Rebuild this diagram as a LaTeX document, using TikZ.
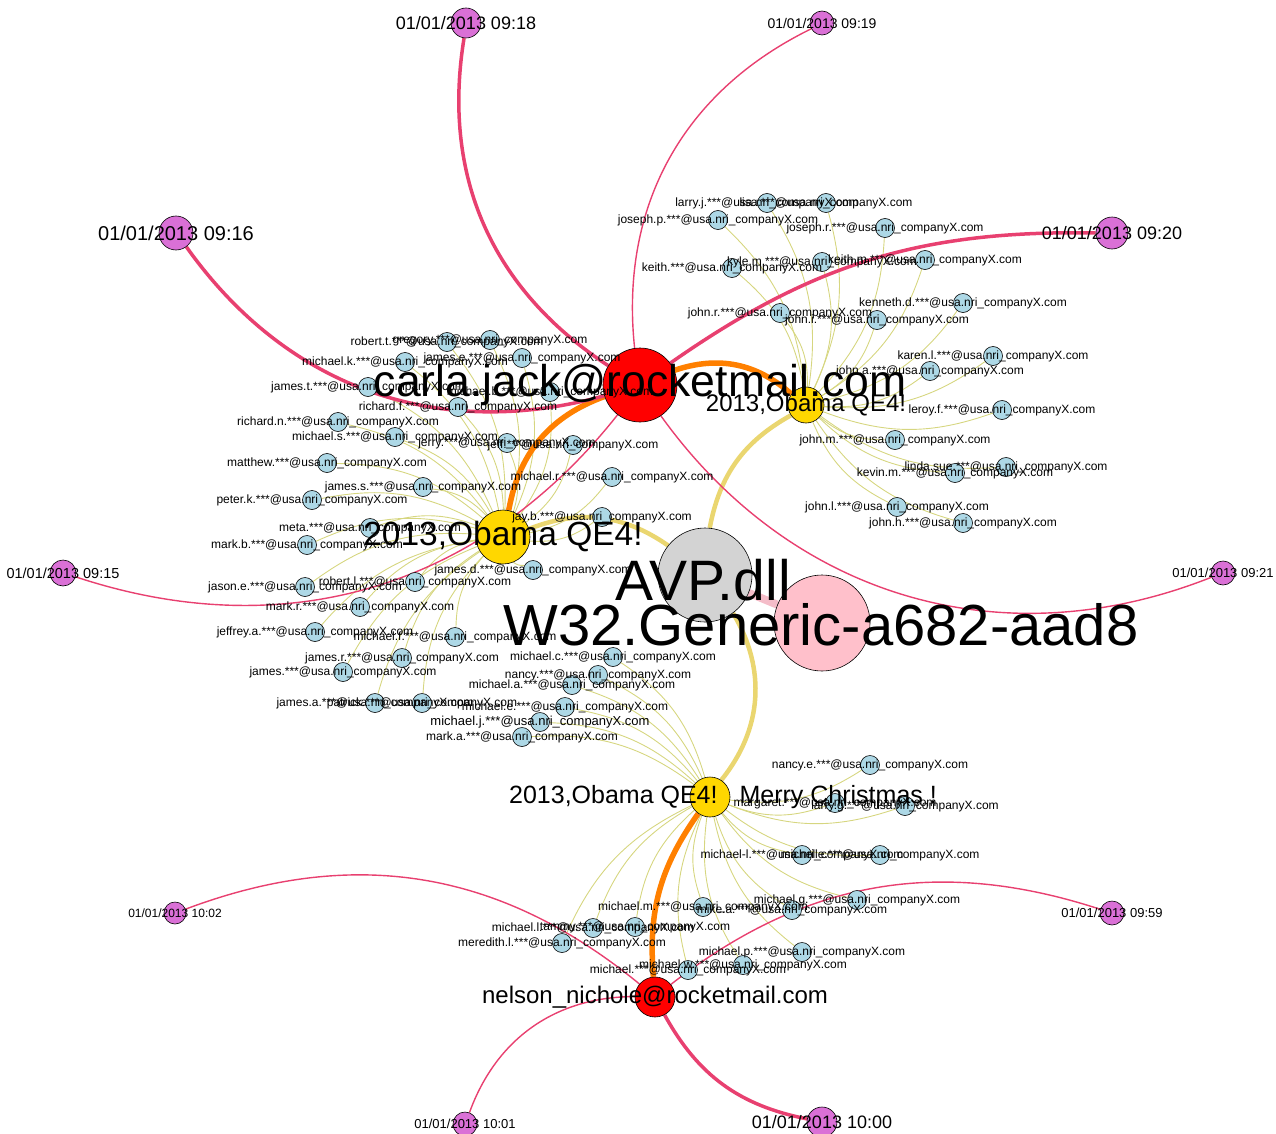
\documentclass[tikz,border=0pt]{standalone}
\usepackage{fontspec}
\setmainfont{Liberation Sans}
\pgfdeclarelayer{bg}
\pgfsetlayers{bg,main}
\definecolor{linkred}{RGB}{232,64,112}
\definecolor{hoporange}{RGB}{255,128,0}
\definecolor{dropkhaki}{RGB}{234,214,112}
\definecolor{mailkhaki}{RGB}{214,214,128}
\definecolor{softpink}{RGB}{244,188,200}
\definecolor{nodeblue}{RGB}{173,216,230}
\definecolor{topicgold}{RGB}{255,215,0}
\definecolor{stamppurple}{RGB}{218,112,214}
\definecolor{avpgray}{RGB}{211,211,211}
\definecolor{w32pink}{RGB}{255,192,203}
\newcommand{\txtsize}[1]{\fontsize{#1}{#1}\selectfont}
\newcommand{\dom}{***@usa.nri\_companyX.com}

\begin{document}
\begin{tikzpicture}[
    x=1pt, y=-1pt,
    person/.style={draw,circle,fill=nodeblue,inner sep=0,minimum size=19pt,line width=0.6pt},
    topic/.style={draw,circle,fill=topicgold,inner sep=0,minimum size=#1,line width=0.6pt},
    sender/.style={draw,circle,fill=red,inner sep=0,minimum size=#1,line width=0.6pt},
    stamp/.style={draw,circle,fill=stamppurple,inner sep=0,minimum size=#1,line width=0.6pt},
    lbl/.style={inner sep=0,font=\txtsize{12}},
    linkthick/.style={draw=linkred,line width=3.5pt},
    linkthin/.style={draw=linkred,line width=1.4pt},
    hop/.style={draw=hoporange,line width=5.5pt},
    dropline/.style={draw=dropkhaki,line width=4.5pt},
    mail/.style={draw=mailkhaki,line width=0.9pt,bend right=20}]
  \useasboundingbox (0,0) rectangle (1276,1134);
  % main nodes
  \node[sender=74pt] (carla) at (640,385) {};
  \node[sender=40pt] (nelson) at (655,997) {};
  \node[draw,circle,fill=avpgray,minimum size=94pt,line width=0.6pt] (avp) at (705,575) {};
  \node[draw,circle,fill=w32pink,minimum size=96pt,line width=0.6pt] (w32) at (822,623) {};
  \node[topic=36pt] (ya) at (806,405) {};
  \node[topic=54pt] (yb) at (503,537) {};
  \node[topic=40pt] (yc) at (710,797) {};
  % time stamps
  \node[stamp=26pt] (ts0915) at (63,573) {};
  \node[stamp=34pt] (ts0916) at (176,233) {};
  \node[stamp=30pt] (ts0918) at (466,23) {};
  \node[stamp=24pt] (ts0919) at (822,23) {};
  \node[stamp=32pt] (ts0920) at (1112,233) {};
  \node[stamp=24pt] (ts0921) at (1223,573) {};
  \node[stamp=22pt] (ts1002) at (175,913) {};
  \node[stamp=24pt] (ts0959) at (1112,913) {};
  \node[stamp=24pt] (ts1001) at (465,1124) {};
  \node[stamp=30pt] (ts1000) at (822,1122) {};
  % receivers, first message
  \node[person] (a1) at (767,203) {};
  \node[person] (a2) at (826,203) {};
  \node[person] (a3) at (718,220) {};
  \node[person] (a4) at (885,228) {};
  \node[person] (a5) at (732,268) {};
  \node[person] (a6) at (822,262) {};
  \node[person] (a7) at (925,260) {};
  \node[person] (a8) at (963,303) {};
  \node[person] (a9) at (780,313) {};
  \node[person] (a10) at (877,320) {};
  \node[person] (a11) at (993,356) {};
  \node[person] (a12) at (930,371) {};
  \node[person] (a13) at (1002,410) {};
  \node[person] (a14) at (895,440) {};
  \node[person] (a15) at (955,473) {};
  \node[person] (a16) at (1006,467) {};
  \node[person] (a17) at (897,507) {};
  \node[person] (a18) at (963,523) {};
  % receivers, second message
  \node[person] (b1) at (447,342) {};
  \node[person] (b2) at (490,340) {};
  \node[person] (b3) at (405,362) {};
  \node[person] (b4) at (522,358) {};
  \node[person] (b5) at (368,387) {};
  \node[person] (b6) at (458,407) {};
  \node[person] (b7) at (550,392) {};
  \node[person] (b8) at (338,422) {};
  \node[person] (b9) at (395,437) {};
  \node[person] (b10) at (507,443) {};
  \node[person] (b11) at (573,445) {};
  \node[person] (b12) at (327,463) {};
  \node[person] (b13) at (612,477) {};
  \node[person] (b14) at (423,487) {};
  \node[person] (b15) at (312,500) {};
  \node[person] (b16) at (602,517) {};
  \node[person] (b17) at (370,528) {};
  \node[person] (b18) at (307,545) {};
  \node[person] (b19) at (533,570) {};
  \node[person] (b20) at (415,582) {};
  \node[person] (b21) at (305,587) {};
  \node[person] (b22) at (360,607) {};
  \node[person] (b23) at (315,632) {};
  \node[person] (b24) at (455,637) {};
  \node[person] (b25) at (402,658) {};
  \node[person] (b26) at (343,672) {};
  \node[person] (b27) at (375,703) {};
  \node[person] (b28) at (422,703) {};
  % receivers, third message
  \node[person] (c1) at (613,657) {};
  \node[person] (c2) at (598,675) {};
  \node[person] (c3) at (572,685) {};
  \node[person] (c4) at (565,707) {};
  \node[person] (c5) at (540,722) {};
  \node[person] (c6) at (522,737) {};
  \node[person] (c7) at (870,765) {};
  \node[person] (c8) at (835,803) {};
  \node[person] (c9) at (905,806) {};
  \node[person] (c10) at (802,855) {};
  \node[person] (c11) at (880,855) {};
  \node[person] (c12) at (857,900) {};
  \node[person] (c13) at (703,907) {};
  \node[person] (c14) at (792,910) {};
  \node[person] (c15) at (593,928) {};
  \node[person] (c16) at (635,927) {};
  \node[person] (c17) at (562,943) {};
  \node[person] (c18) at (802,952) {};
  \node[person] (c19) at (688,970) {};
  \node[person] (c20) at (743,965) {};

  \begin{pgfonlayer}{bg}
    \path[mail] (ya) edge (a1) edge (a2) edge (a3) edge (a4) edge (a5) edge (a6)
      edge (a7) edge (a8) edge (a9) edge (a10) edge (a11) edge (a12) edge (a13)
      edge (a14) edge (a15) edge (a16) edge (a17) edge (a18);
    \path[mail] (yb) edge (b1) edge (b2) edge (b3) edge (b4) edge (b5) edge (b6)
      edge (b7) edge (b8) edge (b9) edge (b10) edge (b11) edge (b12) edge (b13)
      edge (b14) edge (b15) edge (b16) edge (b17) edge (b18) edge (b19) edge (b20)
      edge (b21) edge (b22) edge (b23) edge (b24) edge (b25) edge (b26) edge (b27)
      edge (b28);
    \path[mail] (yc) edge (c1) edge (c2) edge (c3) edge (c4) edge (c5) edge (c6)
      edge (c7) edge (c8) edge (c9) edge (c10) edge (c11) edge (c12) edge (c13)
      edge (c14) edge (c15) edge (c16) edge (c17) edge (c18) edge (c19) edge (c20);
    \path[draw=softpink,line width=8pt] (avp) -- (w32);
    \path[dropline] (avp) edge[bend left=25] (ya) (avp) edge[bend right=28] (yb)
      (avp) edge[bend left=35] (yc);
    \path[hop] (carla) edge[bend left=30] (ya) (carla) edge[bend right=30] (yb)
      (nelson) edge[bend left=20] (yc);
    \path[linkthick] (carla) edge[bend left=33] (ts0918) (carla) edge[bend left=35] (ts0916)
      (carla) edge[bend left=18] (ts0920) (nelson) edge[bend right=25] (ts1000);
    \path[linkthin] (carla) edge[bend left=35] (ts0919) (carla) edge[bend left=35] (ts0915)
      (carla) edge[bend right=38] (ts0921) (nelson) edge[bend right=30] (ts1002)
      (nelson) edge[bend left=28] (ts0959) (nelson) edge[bend right=35] (ts1001);
  \end{pgfonlayer}

  % labels
  \node[lbl] at (a1) {larry.j.\dom};
  \node[lbl] at (a2) {lisa.\dom};
  \node[lbl] at (a3) {joseph.p.\dom};
  \node[lbl] at (a4) {joseph.r.\dom};
  \node[lbl] at (a5) {keith.\dom};
  \node[lbl] at (a6) {kyle.m.\dom};
  \node[lbl] at (a7) {keith.m.\dom};
  \node[lbl] at (a8) {kenneth.d.\dom};
  \node[lbl] at (a9) {john.r.\dom};
  \node[lbl] at (a10) {john.i.\dom};
  \node[lbl] at (a11) {karen.l.\dom};
  \node[lbl] at (a12) {john.a.\dom};
  \node[lbl] at (a13) {leroy.f.\dom};
  \node[lbl] at (a14) {john.m.\dom};
  \node[lbl] at (a15) {kevin.m.\dom};
  \node[lbl] at (a16) {linda.sue.\dom};
  \node[lbl] at (a17) {john.l.\dom};
  \node[lbl] at (a18) {john.h.\dom};
  \node[lbl] at (b1) {robert.t.\dom};
  \node[lbl] at (b2) {gregory.\dom};
  \node[lbl] at (b3) {michael.k.\dom};
  \node[lbl] at (b4) {james.e.\dom};
  \node[lbl] at (b5) {james.t.\dom};
  \node[lbl] at (b6) {richard.f.\dom};
  \node[lbl] at (b7) {michael.b.\dom};
  \node[lbl] at (b8) {richard.n.\dom};
  \node[lbl] at (b9) {michael.s.\dom};
  \node[lbl] at (b10) {jerry.\dom};
  \node[lbl] at (b11) {jeff.\dom};
  \node[lbl] at (b12) {matthew.\dom};
  \node[lbl] at (b13) {michael.r.\dom};
  \node[lbl] at (b14) {james.s.\dom};
  \node[lbl] at (b15) {peter.k.\dom};
  \node[lbl] at (b16) {jay.b.\dom};
  \node[lbl] at (b17) {meta.\dom};
  \node[lbl] at (b18) {mark.b.\dom};
  \node[lbl] at (b19) {james.d.\dom};
  \node[lbl] at (b20) {robert.l.\dom};
  \node[lbl] at (b21) {jason.e.\dom};
  \node[lbl] at (b22) {mark.r.\dom};
  \node[lbl] at (b23) {jeffrey.a.\dom};
  \node[lbl] at (b24) {michael.f.\dom};
  \node[lbl] at (b25) {james.r.\dom};
  \node[lbl] at (b26) {james.\dom};
  \node[lbl] at (b27) {james.a.\dom};
  \node[lbl] at (b28) {patrick.\dom};
  \node[lbl] at (c1) {michael.c.\dom};
  \node[lbl] at (c2) {nancy.\dom};
  \node[lbl] at (c3) {michael.a.\dom};
  \node[lbl] at (c4) {michael.e.\dom};
  \node[lbl,font=\txtsize{13}] at (c5) {michael.j.\dom};
  \node[lbl] at (c6) {mark.a.\dom};
  \node[lbl] at (c7) {nancy.e.\dom};
  \node[lbl] at (c8) {margaret.\dom};
  \node[lbl] at (c9) {larry.g.\dom};
  \node[lbl] at (c10) {michael-l.\dom};
  \node[lbl] at (c11) {michelle.\dom};
  \node[lbl] at (c12) {michael.g.\dom};
  \node[lbl] at (c13) {michael.m.\dom};
  \node[lbl] at (c14) {mike.a.\dom};
  \node[lbl] at (c15) {michael.l.\dom};
  \node[lbl] at (c16) {tammy.\dom};
  \node[lbl] at (c17) {meredith.l.\dom};
  \node[lbl] at (c18) {michael.p.\dom};
  \node[lbl] at (c19) {michael.\dom};
  \node[lbl] at (c20) {michael.w.\dom};
  \node[lbl,font=\txtsize{14.5}] at (ts0915) {01/01/2013 09:15};
  \node[lbl,font=\txtsize{20}] at (ts0916) {01/01/2013 09:16};
  \node[lbl,font=\txtsize{18}] at (ts0918) {01/01/2013 09:18};
  \node[lbl,font=\txtsize{14}] at (ts0919) {01/01/2013 09:19};
  \node[lbl,font=\txtsize{18}] at (ts0920) {01/01/2013 09:20};
  \node[lbl,font=\txtsize{13}] at (ts0921) {01/01/2013 09:21};
  \node[lbl,font=\txtsize{12}] at (ts1002) {01/01/2013 10:02};
  \node[lbl,font=\txtsize{13}] at (ts0959) {01/01/2013 09:59};
  \node[lbl,font=\txtsize{13}] at (ts1001) {01/01/2013 10:01};
  \node[lbl,font=\txtsize{18}] at (ts1000) {01/01/2013 10:00};
  \node[lbl,font=\txtsize{24}] at (ya) {2013,Obama QE4!};
  \node[lbl,font=\txtsize{33.5}] at (yb) {2013,Obama QE4!};
  \node[lbl,font=\txtsize{25},xshift=13pt] at (yc) {2013,Obama QE4!\hspace{22pt}Merry Christmas !};
  \node[lbl,font=\txtsize{24}] at (nelson) {nelson\_nichole@rocketmail.com};
  \node[lbl,font=\txtsize{44.5}] at (carla) {carla.jack@rocketmail.com};
  \node[lbl,font=\txtsize{57}] at (703,580) {AVP.dll};
  \node[lbl,font=\txtsize{58}] at (821,625) {W32.Generic-a682-aad8};
\end{tikzpicture}
\end{document}
